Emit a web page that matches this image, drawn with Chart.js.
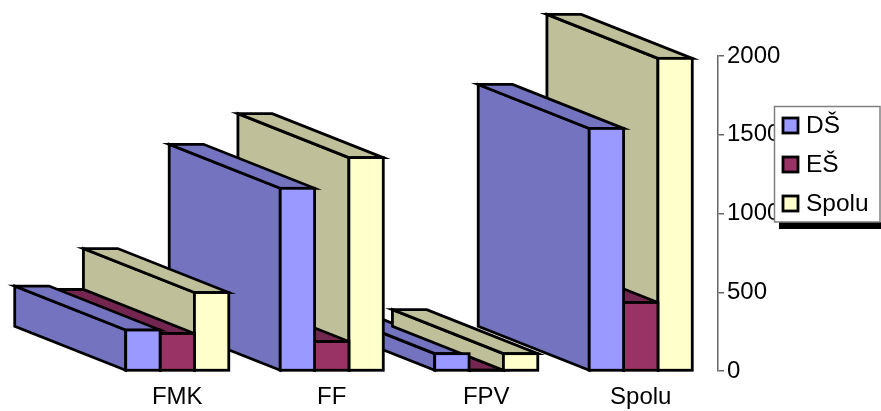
<!DOCTYPE html>
<html>
<head>
<meta charset="utf-8">
<title>DŠ EŠ Spolu</title>
<script src="https://cdn.jsdelivr.net/npm/chart.js@4/dist/chart.umd.min.js"></script>
<style>
  html, body { margin: 0; padding: 0; background: #fff; }
  canvas { display: block; }
</style>
</head>
<body>
<canvas id="c" width="881" height="411"></canvas>
<script>
var CATEGORIES = ['FMK', 'FF', 'FPV', 'Spolu'];
var DS_VALUES    = [260, 1160, 110, 1540];
var ES_VALUES    = [238, 187, 5, 435];
var SPOLU_VALUES = [498, 1355, 110, 1985];
var TICK_VALUES  = [0, 500, 1000, 1500, 2000];

var FONT = '"Liberation Sans", Arial, sans-serif';

// depth of the fake 3D extrusion, in pixels
var DEPTH_X = -111;
var DEPTH_Y = -44;
var EDGE = 2.8;

function face(ctx, pts, fill) {
    ctx.beginPath();
    ctx.moveTo(pts[0][0], pts[0][1]);
    for (var i = 1; i < pts.length; i++) ctx.lineTo(pts[i][0], pts[i][1]);
    ctx.closePath();
    ctx.fillStyle = fill;
    ctx.fill();
    ctx.stroke();
}

function drawBarDepth(ctx, bar, fill) {
    var l = bar.x - bar.width / 2;
    var r = bar.x + bar.width / 2;
    var t = bar.y;
    var b = bar.base;
    ctx.lineWidth = EDGE;
    ctx.lineJoin = 'miter';
    ctx.strokeStyle = '#000';
    // left side
    face(ctx, [[l, t], [l + DEPTH_X, t + DEPTH_Y], [l + DEPTH_X, b + DEPTH_Y], [l, b]], fill);
    // top
    face(ctx, [[l, t], [l + DEPTH_X, t + DEPTH_Y], [r + DEPTH_X, t + DEPTH_Y], [r, t]], fill);
}

function drawBarFront(ctx, bar) {
    bar.draw(ctx);
    ctx.save();
    ctx.lineWidth = EDGE;
    ctx.strokeStyle = '#000';
    ctx.strokeRect(bar.x - bar.width / 2, bar.y, bar.width, bar.base - bar.y);
    ctx.restore();
}

// paints categories back to front, every bar element comes from the bar controller
var depthBars = {
    id: 'depthBars',
    beforeDatasetsDraw: function(chart) {
        var ctx = chart.ctx;
        for (var c = CATEGORIES.length - 1; c >= 0; c--) {
            // FPV is so low that Excel put the Spolu wall over the DŠ top
            var order = CATEGORIES[c] === 'FPV' ? [1, 0, 2] : [2, 1, 0];
            order.forEach(function(d) {
                var ds = chart.data.datasets[d];
                ctx.save();
                drawBarDepth(ctx, chart.getDatasetMeta(d).data[c], ds.sideColor);
                ctx.restore();
            });
            order.forEach(function(d) {
                drawBarFront(ctx, chart.getDatasetMeta(d).data[c]);
            });
        }
        return false;
    }
};

var boxLegend = {
    id: 'boxLegend',
    afterDraw: function(chart) {
        var ctx = chart.ctx;
        ctx.save();
        ctx.fillStyle = '#000';
        ctx.fillRect(779, 222, 102, 7);
        ctx.fillStyle = '#fff';
        ctx.fillRect(774, 106, 106, 116);
        ctx.strokeStyle = '#808080';
        ctx.lineWidth = 1.5;
        ctx.strokeRect(774.5, 106.5, 105.5, 115.5);
        var rows = [118, 157, 196];
        ctx.font = '24.5px ' + FONT;
        ctx.textBaseline = 'middle';
        chart.data.datasets.forEach(function(ds, i) {
            ctx.fillStyle = ds.backgroundColor;
            ctx.fillRect(783, rows[i], 15, 15);
            ctx.strokeStyle = '#000';
            ctx.lineWidth = EDGE;
            ctx.strokeRect(783, rows[i], 15, 15);
            ctx.fillStyle = '#000';
            ctx.fillText(ds.label, 806, rows[i] + 8);
        });
        ctx.restore();
    }
};

new Chart(document.getElementById('c'), {
    type: 'bar',
    data: {
        labels: CATEGORIES,
        datasets: [
            { label: 'DŠ', data: DS_VALUES, backgroundColor: '#9999FF', sideColor: '#7373BF' },
            { label: 'EŠ', data: ES_VALUES, backgroundColor: '#993366', sideColor: '#732650' },
            { label: 'Spolu', data: SPOLU_VALUES, backgroundColor: '#FFFFCC', sideColor: '#BFBF99' }
        ]
    },
    options: {
        responsive: false,
        animation: false,
        layout: { padding: { left: 100, top: 56, right: 0, bottom: 0 } },
        datasets: {
            bar: {
                categoryPercentage: 0.667,
                barPercentage: 1,
                borderWidth: 0
            }
        },
        plugins: {
            legend: { display: false },
            tooltip: { enabled: false }
        },
        scales: {
            x: {
                grid: { display: false, drawTicks: false },
                border: { display: false },
                ticks: { color: '#000', font: { family: FONT, size: 24 }, padding: 12, maxRotation: 0 },
                afterFit: function(scale) { scale.height = 40; }
            },
            y: {
                position: 'right',
                min: 0,
                max: 2000,
                afterBuildTicks: function(scale) {
                    scale.ticks = TICK_VALUES.map(function(v) { return { value: v }; });
                },
                grid: { drawOnChartArea: false, drawTicks: true, tickLength: 6, color: '#666', lineWidth: 1.5 },
                border: { color: '#666', width: 1.5 },
                ticks: {
                    color: '#000',
                    font: { family: FONT, size: 24 },
                    padding: 3,
                    callback: function(v) { return String(v); }
                },
                afterFit: function(scale) { scale.width = 163; }
            }
        }
    },
    plugins: [depthBars, boxLegend]
});
</script>
</body>
</html>
